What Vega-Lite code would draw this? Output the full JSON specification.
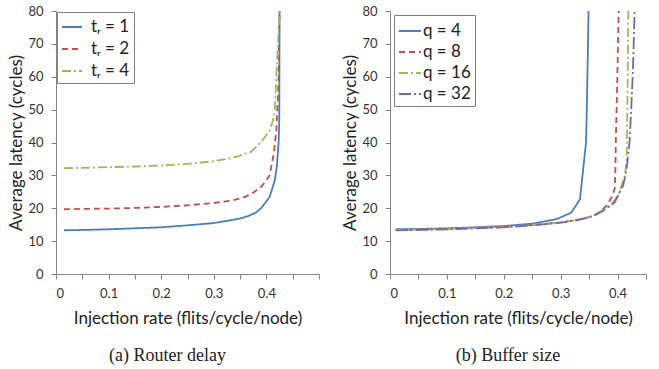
{
  "$schema": "https://vega.github.io/schema/vega-lite/v6.json",
  "padding": {"left": 7, "top": 5, "right": 2, "bottom": 2},
  "background": "white",
  "config": {
    "font": "Lato",
    "view": {"stroke": null},
    "axis": {
      "grid": false,
      "domainColor": "#868686",
      "tickColor": "#868686",
      "tickSize": 5,
      "labelColor": "#333333",
      "labelFontSize": 13,
      "titleFontSize": 17,
      "titleFontWeight": "normal",
      "titleColor": "#222222",
      "labelFont": "Lato",
      "titleFont": "Lato"
    },
    "axisY": {"labelPadding": 8, "titlePadding": 2},
    "axisX": {"labelPadding": 8, "titlePadding": 10},
    "legend": {
      "orient": "top-left",
      "offset": 1,
      "title": null,
      "symbolType": "stroke",
      "symbolSize": 400,
      "symbolStrokeWidth": 2,
      "labelFontSize": 17,
      "labelColor": "#222222",
      "strokeColor": "#808080",
      "fillColor": "white",
      "padding": 4,
      "rowPadding": 3
    },
    "title": {"font": "Liberation Serif", "fontSize": 18, "fontWeight": "normal", "color": "#222222", "orient": "bottom", "offset": 21}
  },
  "spacing": 21,
  "datasets": {
    "a": [
      {"rate": 0.015, "latency": 13.3, "series": "tᵣ = 1"},
      {"rate": 0.05, "latency": 13.4, "series": "tᵣ = 1"},
      {"rate": 0.1, "latency": 13.6, "series": "tᵣ = 1"},
      {"rate": 0.15, "latency": 13.9, "series": "tᵣ = 1"},
      {"rate": 0.2, "latency": 14.2, "series": "tᵣ = 1"},
      {"rate": 0.25, "latency": 14.8, "series": "tᵣ = 1"},
      {"rate": 0.3, "latency": 15.5, "series": "tᵣ = 1"},
      {"rate": 0.33, "latency": 16.3, "series": "tᵣ = 1"},
      {"rate": 0.35, "latency": 16.9, "series": "tᵣ = 1"},
      {"rate": 0.365, "latency": 17.6, "series": "tᵣ = 1"},
      {"rate": 0.38, "latency": 18.7, "series": "tᵣ = 1"},
      {"rate": 0.39, "latency": 20.0, "series": "tᵣ = 1"},
      {"rate": 0.406, "latency": 23.4, "series": "tᵣ = 1"},
      {"rate": 0.416, "latency": 28.5, "series": "tᵣ = 1"},
      {"rate": 0.42, "latency": 33.0, "series": "tᵣ = 1"},
      {"rate": 0.4234, "latency": 40.6, "series": "tᵣ = 1"},
      {"rate": 0.4245, "latency": 47.0, "series": "tᵣ = 1"},
      {"rate": 0.425, "latency": 80.0, "series": "tᵣ = 1"},
      {"rate": 0.015, "latency": 19.7, "series": "tᵣ = 2"},
      {"rate": 0.05, "latency": 19.8, "series": "tᵣ = 2"},
      {"rate": 0.1, "latency": 19.9, "series": "tᵣ = 2"},
      {"rate": 0.15, "latency": 20.1, "series": "tᵣ = 2"},
      {"rate": 0.2, "latency": 20.4, "series": "tᵣ = 2"},
      {"rate": 0.25, "latency": 20.9, "series": "tᵣ = 2"},
      {"rate": 0.3, "latency": 21.6, "series": "tᵣ = 2"},
      {"rate": 0.333, "latency": 22.3, "series": "tᵣ = 2"},
      {"rate": 0.355, "latency": 23.2, "series": "tᵣ = 2"},
      {"rate": 0.371, "latency": 24.3, "series": "tᵣ = 2"},
      {"rate": 0.39, "latency": 26.5, "series": "tᵣ = 2"},
      {"rate": 0.4, "latency": 28.5, "series": "tᵣ = 2"},
      {"rate": 0.406, "latency": 30.0, "series": "tᵣ = 2"},
      {"rate": 0.414, "latency": 36.6, "series": "tᵣ = 2"},
      {"rate": 0.419, "latency": 44.0, "series": "tᵣ = 2"},
      {"rate": 0.423, "latency": 58.0, "series": "tᵣ = 2"},
      {"rate": 0.425, "latency": 80.0, "series": "tᵣ = 2"},
      {"rate": 0.015, "latency": 32.2, "series": "tᵣ = 4"},
      {"rate": 0.05, "latency": 32.3, "series": "tᵣ = 4"},
      {"rate": 0.1, "latency": 32.5, "series": "tᵣ = 4"},
      {"rate": 0.15, "latency": 32.7, "series": "tᵣ = 4"},
      {"rate": 0.2, "latency": 33.0, "series": "tᵣ = 4"},
      {"rate": 0.25, "latency": 33.5, "series": "tᵣ = 4"},
      {"rate": 0.3, "latency": 34.3, "series": "tᵣ = 4"},
      {"rate": 0.33, "latency": 35.2, "series": "tᵣ = 4"},
      {"rate": 0.346, "latency": 35.8, "series": "tᵣ = 4"},
      {"rate": 0.371, "latency": 37.2, "series": "tᵣ = 4"},
      {"rate": 0.386, "latency": 39.5, "series": "tᵣ = 4"},
      {"rate": 0.394, "latency": 41.0, "series": "tᵣ = 4"},
      {"rate": 0.406, "latency": 43.6, "series": "tᵣ = 4"},
      {"rate": 0.4125, "latency": 46.7, "series": "tᵣ = 4"},
      {"rate": 0.416, "latency": 50.0, "series": "tᵣ = 4"},
      {"rate": 0.418, "latency": 56.8, "series": "tᵣ = 4"},
      {"rate": 0.42, "latency": 63.8, "series": "tᵣ = 4"},
      {"rate": 0.425, "latency": 80.0, "series": "tᵣ = 4"}
    ],
    "b": [
      {"rate": 0.01, "latency": 13.6, "series": "q = 4"},
      {"rate": 0.05, "latency": 13.7, "series": "q = 4"},
      {"rate": 0.1, "latency": 13.9, "series": "q = 4"},
      {"rate": 0.15, "latency": 14.2, "series": "q = 4"},
      {"rate": 0.2, "latency": 14.6, "series": "q = 4"},
      {"rate": 0.25, "latency": 15.3, "series": "q = 4"},
      {"rate": 0.293, "latency": 16.7, "series": "q = 4"},
      {"rate": 0.319, "latency": 18.7, "series": "q = 4"},
      {"rate": 0.334, "latency": 22.8, "series": "q = 4"},
      {"rate": 0.3445, "latency": 40.0, "series": "q = 4"},
      {"rate": 0.3456, "latency": 47.0, "series": "q = 4"},
      {"rate": 0.347, "latency": 60.0, "series": "q = 4"},
      {"rate": 0.349, "latency": 80.0, "series": "q = 4"},
      {"rate": 0.01, "latency": 13.4, "series": "q = 8"},
      {"rate": 0.05, "latency": 13.5, "series": "q = 8"},
      {"rate": 0.1, "latency": 13.7, "series": "q = 8"},
      {"rate": 0.15, "latency": 14.0, "series": "q = 8"},
      {"rate": 0.2, "latency": 14.3, "series": "q = 8"},
      {"rate": 0.25, "latency": 14.9, "series": "q = 8"},
      {"rate": 0.3, "latency": 15.7, "series": "q = 8"},
      {"rate": 0.33, "latency": 16.5, "series": "q = 8"},
      {"rate": 0.35, "latency": 17.3, "series": "q = 8"},
      {"rate": 0.363, "latency": 18.2, "series": "q = 8"},
      {"rate": 0.381, "latency": 20.8, "series": "q = 8"},
      {"rate": 0.39, "latency": 23.5, "series": "q = 8"},
      {"rate": 0.395, "latency": 26.0, "series": "q = 8"},
      {"rate": 0.396, "latency": 30.0, "series": "q = 8"},
      {"rate": 0.397, "latency": 41.0, "series": "q = 8"},
      {"rate": 0.399, "latency": 55.0, "series": "q = 8"},
      {"rate": 0.402, "latency": 80.0, "series": "q = 8"},
      {"rate": 0.01, "latency": 13.4, "series": "q = 16"},
      {"rate": 0.05, "latency": 13.5, "series": "q = 16"},
      {"rate": 0.1, "latency": 13.7, "series": "q = 16"},
      {"rate": 0.15, "latency": 14.0, "series": "q = 16"},
      {"rate": 0.2, "latency": 14.3, "series": "q = 16"},
      {"rate": 0.25, "latency": 14.9, "series": "q = 16"},
      {"rate": 0.3, "latency": 15.7, "series": "q = 16"},
      {"rate": 0.33, "latency": 16.5, "series": "q = 16"},
      {"rate": 0.35, "latency": 17.3, "series": "q = 16"},
      {"rate": 0.363, "latency": 18.2, "series": "q = 16"},
      {"rate": 0.375, "latency": 19.5, "series": "q = 16"},
      {"rate": 0.387, "latency": 20.8, "series": "q = 16"},
      {"rate": 0.401, "latency": 23.9, "series": "q = 16"},
      {"rate": 0.413, "latency": 30.0, "series": "q = 16"},
      {"rate": 0.416, "latency": 35.0, "series": "q = 16"},
      {"rate": 0.417, "latency": 47.0, "series": "q = 16"},
      {"rate": 0.419, "latency": 80.0, "series": "q = 16"},
      {"rate": 0.01, "latency": 13.3, "series": "q = 32"},
      {"rate": 0.05, "latency": 13.4, "series": "q = 32"},
      {"rate": 0.1, "latency": 13.6, "series": "q = 32"},
      {"rate": 0.15, "latency": 13.9, "series": "q = 32"},
      {"rate": 0.2, "latency": 14.2, "series": "q = 32"},
      {"rate": 0.25, "latency": 14.8, "series": "q = 32"},
      {"rate": 0.3, "latency": 15.6, "series": "q = 32"},
      {"rate": 0.33, "latency": 16.4, "series": "q = 32"},
      {"rate": 0.35, "latency": 17.2, "series": "q = 32"},
      {"rate": 0.363, "latency": 18.1, "series": "q = 32"},
      {"rate": 0.375, "latency": 19.3, "series": "q = 32"},
      {"rate": 0.386, "latency": 20.6, "series": "q = 32"},
      {"rate": 0.395, "latency": 21.8, "series": "q = 32"},
      {"rate": 0.41, "latency": 27.0, "series": "q = 32"},
      {"rate": 0.416, "latency": 32.0, "series": "q = 32"},
      {"rate": 0.421, "latency": 40.0, "series": "q = 32"},
      {"rate": 0.424, "latency": 50.0, "series": "q = 32"},
      {"rate": 0.427, "latency": 62.0, "series": "q = 32"},
      {"rate": 0.43, "latency": 80.0, "series": "q = 32"}
    ]
  },
  "resolve": {"scale": {"color": "independent", "strokeDash": "independent"}, "legend": {"color": "independent", "strokeDash": "independent"}},
  "hconcat": [
    {
      "width": 263,
      "height": 263,
      "title": {"text": "(a)  Router delay", "dx": -20},
      "data": {"name": "a"},
      "mark": {"type": "line", "strokeWidth": 1.8, "clip": true},
      "encoding": {
        "x": {"field": "rate", "type": "quantitative", "scale": {"domain": [0, 0.5], "nice": false},
          "axis": {"title": "Injection rate (flits/cycle/node)", "values": [0, 0.05, 0.1, 0.15, 0.2, 0.25, 0.3, 0.35, 0.4, 0.45, 0.5],
            "labelExpr": "round(datum.value*20) % 2 == 1 || datum.value > 0.45 ? '' : format(datum.value, '.1~f')"}},
        "y": {"field": "latency", "type": "quantitative", "scale": {"domain": [0, 80], "nice": false},
          "axis": {"title": "Average latency (cycles)", "values": [0, 10, 20, 30, 40, 50, 60, 70, 80]}},
        "color": {"field": "series", "type": "nominal",
          "scale": {"domain": ["tᵣ = 1", "tᵣ = 2", "tᵣ = 4"], "range": ["#4A7EBB", "#C0504D", "#9BBB59"]},
          "legend": {"labelOffset": 8}},
        "strokeDash": {"field": "series", "type": "nominal",
          "scale": {"domain": ["tᵣ = 1", "tᵣ = 2", "tᵣ = 4"], "range": [[1, 0], [6, 4], [9, 3, 2, 3]]},
          "legend": {"labelOffset": 8}}
      }
    },
    {
      "width": 256,
      "height": 263,
      "title": {"text": "(b)  Buffer size", "dx": -10},
      "data": {"name": "b"},
      "mark": {"type": "line", "strokeWidth": 1.8, "clip": true},
      "encoding": {
        "x": {"field": "rate", "type": "quantitative", "scale": {"domain": [0, 0.45], "nice": false},
          "axis": {"title": "Injection rate (flits/cycle/node)", "values": [0, 0.05, 0.1, 0.15, 0.2, 0.25, 0.3, 0.35, 0.4, 0.45],
            "labelExpr": "round(datum.value*20) % 2 == 1 ? '' : format(datum.value, '.1~f')"}},
        "y": {"field": "latency", "type": "quantitative", "scale": {"domain": [0, 80], "nice": false},
          "axis": {"title": "Average latency (cycles)", "values": [0, 10, 20, 30, 40, 50, 60, 70, 80]}},
        "color": {"field": "series", "type": "nominal",
          "scale": {"domain": ["q = 4", "q = 8", "q = 16", "q = 32"], "range": ["#4A7EBB", "#C0504D", "#9BBB59", "#8064A2"]},
          "legend": {"rowPadding": 1, "symbolSize": 484, "labelOffset": 1, "offset": 4}},
        "strokeDash": {"field": "series", "type": "nominal",
          "scale": {"domain": ["q = 4", "q = 8", "q = 16", "q = 32"], "range": [[1, 0], [6, 4], [9, 3, 2, 3], [12, 3, 2, 3]]},
          "legend": {"rowPadding": 1, "symbolSize": 484, "labelOffset": 1, "offset": 4}}
      }
    }
  ]
}
